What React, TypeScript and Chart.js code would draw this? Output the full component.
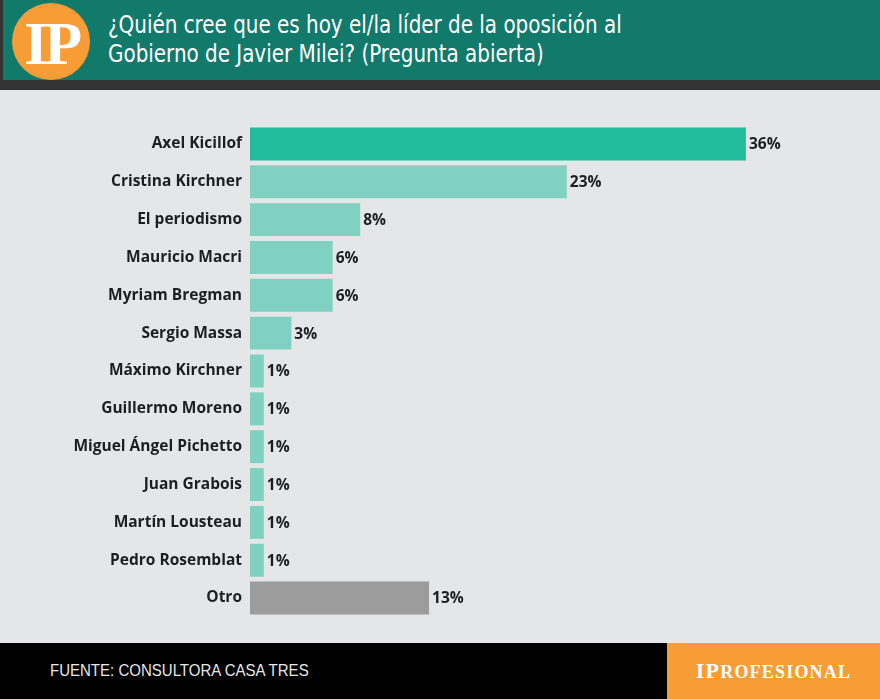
import React, { useEffect, useRef } from "react";
import { Chart, registerables } from "chart.js";

Chart.register(...registerables);

const categories = [
  "Axel Kicillof",
  "Cristina Kirchner",
  "El periodismo",
  "Mauricio Macri",
  "Myriam Bregman",
  "Sergio Massa",
  "Máximo Kirchner",
  "Guillermo Moreno",
  "Miguel Ángel Pichetto",
  "Juan Grabois",
  "Martín Lousteau",
  "Pedro Rosemblat",
  "Otro",
];
const values = [36, 23, 8, 6, 6, 3, 1, 1, 1, 1, 1, 1, 13];
const barColors = [
  "#22bb9b",
  "#80d1c1", "#80d1c1", "#80d1c1", "#80d1c1", "#80d1c1", "#80d1c1",
  "#80d1c1", "#80d1c1", "#80d1c1", "#80d1c1", "#80d1c1",
  "#9c9c9c",
];
const titleLines = [
  "¿Quién cree que es hoy el/la líder de la oposición al",
  "Gobierno de Javier Milei? (Pregunta abierta)",
];
const sourceText = "FUENTE: CONSULTORA CASA TRES";

const LABEL_FONT = "'Open Sans', 'Noto Sans', sans-serif";

const valueLabels = {
  id: "valueLabels",
  afterDatasetsDraw(chart: any) {
    const ctx = chart.ctx;
    const meta = chart.getDatasetMeta(0);
    ctx.save();
    ctx.font = `bold 15.5px ${LABEL_FONT}`;
    ctx.fillStyle = "#1e1e1e";
    ctx.textAlign = "left";
    ctx.textBaseline = "middle";
    meta.data.forEach((bar: any, i: number) => {
      ctx.fillText(values[i] + "%", bar.x + 3, bar.y + 1);
    });
    ctx.restore();
  },
};

export default function App() {
  const ref = useRef<HTMLCanvasElement>(null);
  useEffect(() => {
    document.body.style.margin = "0";
    const chart = new Chart(ref.current!, {
      type: "bar",
      data: {
        labels: categories,
        datasets: [
          {
            data: values,
            backgroundColor: barColors,
            barPercentage: 0.87,
            categoryPercentage: 1,
          },
        ],
      },
      options: {
        indexAxis: "y",
        animation: false,
        responsive: false,
        maintainAspectRatio: false,
        layout: { padding: { top: 35, bottom: 26, left: 0, right: 79 } },
        plugins: { legend: { display: false }, tooltip: { enabled: false } },
        scales: {
          x: { display: false, min: 0, max: 40 },
          y: {
            grid: { display: false, drawTicks: false },
            border: { display: false },
            afterFit: (s: any) => {
              s.width = 250;
            },
            ticks: {
              padding: 8,
              color: "#1e1e1e",
              font: { family: LABEL_FONT, weight: "bold", size: 15.5 },
            },
          },
        },
      },
      plugins: [valueLabels],
    });
    return () => chart.destroy();
  }, []);

  return (
    <div style={{ position: "relative", width: 880, height: 699, background: "#e5e6e8", overflow: "hidden" }}>
      <div style={{ position: "absolute", left: 0, top: 0, width: 880, height: 80, background: "#127a6b" }} />
      <div style={{ position: "absolute", left: 0, top: 0, width: 3, height: 80, background: "#333333" }} />
      <div style={{ position: "absolute", left: 0, top: 80, width: 880, height: 10, background: "#333333" }} />
      <div
        style={{
          position: "absolute", left: 12, top: 3, width: 78, height: 77, borderRadius: "50%",
          background: "#f89c35", color: "#fff", fontFamily: "'Liberation Serif', serif", fontWeight: "bold",
          fontSize: 62, lineHeight: "80px", textAlign: "center", letterSpacing: -4,
        }}
      >
        IP
      </div>
      <div
        style={{
          position: "absolute", left: 108, top: 10, color: "#fff",
          fontFamily: "'DejaVu Sans Condensed', 'DejaVu Sans', sans-serif",
          fontSize: 25, lineHeight: "29px", transform: "scaleX(0.886)", transformOrigin: "left top",
          whiteSpace: "nowrap",
        }}
      >
        {titleLines.map((l, i) => (
          <div key={i}>{l}</div>
        ))}
      </div>
      <canvas ref={ref} width={880} height={553} style={{ position: "absolute", left: 0, top: 90 }} />
      <div style={{ position: "absolute", left: 0, top: 643, width: 880, height: 56, background: "#000" }} />
      <div
        style={{
          position: "absolute", left: 50, top: 661, color: "#e8e8e8",
          fontFamily: "'Liberation Sans', Arial, sans-serif", fontSize: 16.5,
          transform: "scaleX(0.91)", transformOrigin: "left top", whiteSpace: "nowrap",
        }}
      >
        {sourceText}
      </div>
      <div
        style={{
          position: "absolute", left: 667, top: 643, width: 213, height: 56, background: "#f89c35",
          color: "#fff", fontFamily: "'Liberation Serif', serif", fontWeight: "bold",
          lineHeight: "56px", textAlign: "center", whiteSpace: "nowrap", letterSpacing: 1.2,
        }}
      >
        <span style={{ fontSize: 22 }}>IP</span>
        <span style={{ fontSize: 18 }}>ROFESIONAL</span>
      </div>
    </div>
  );
}
